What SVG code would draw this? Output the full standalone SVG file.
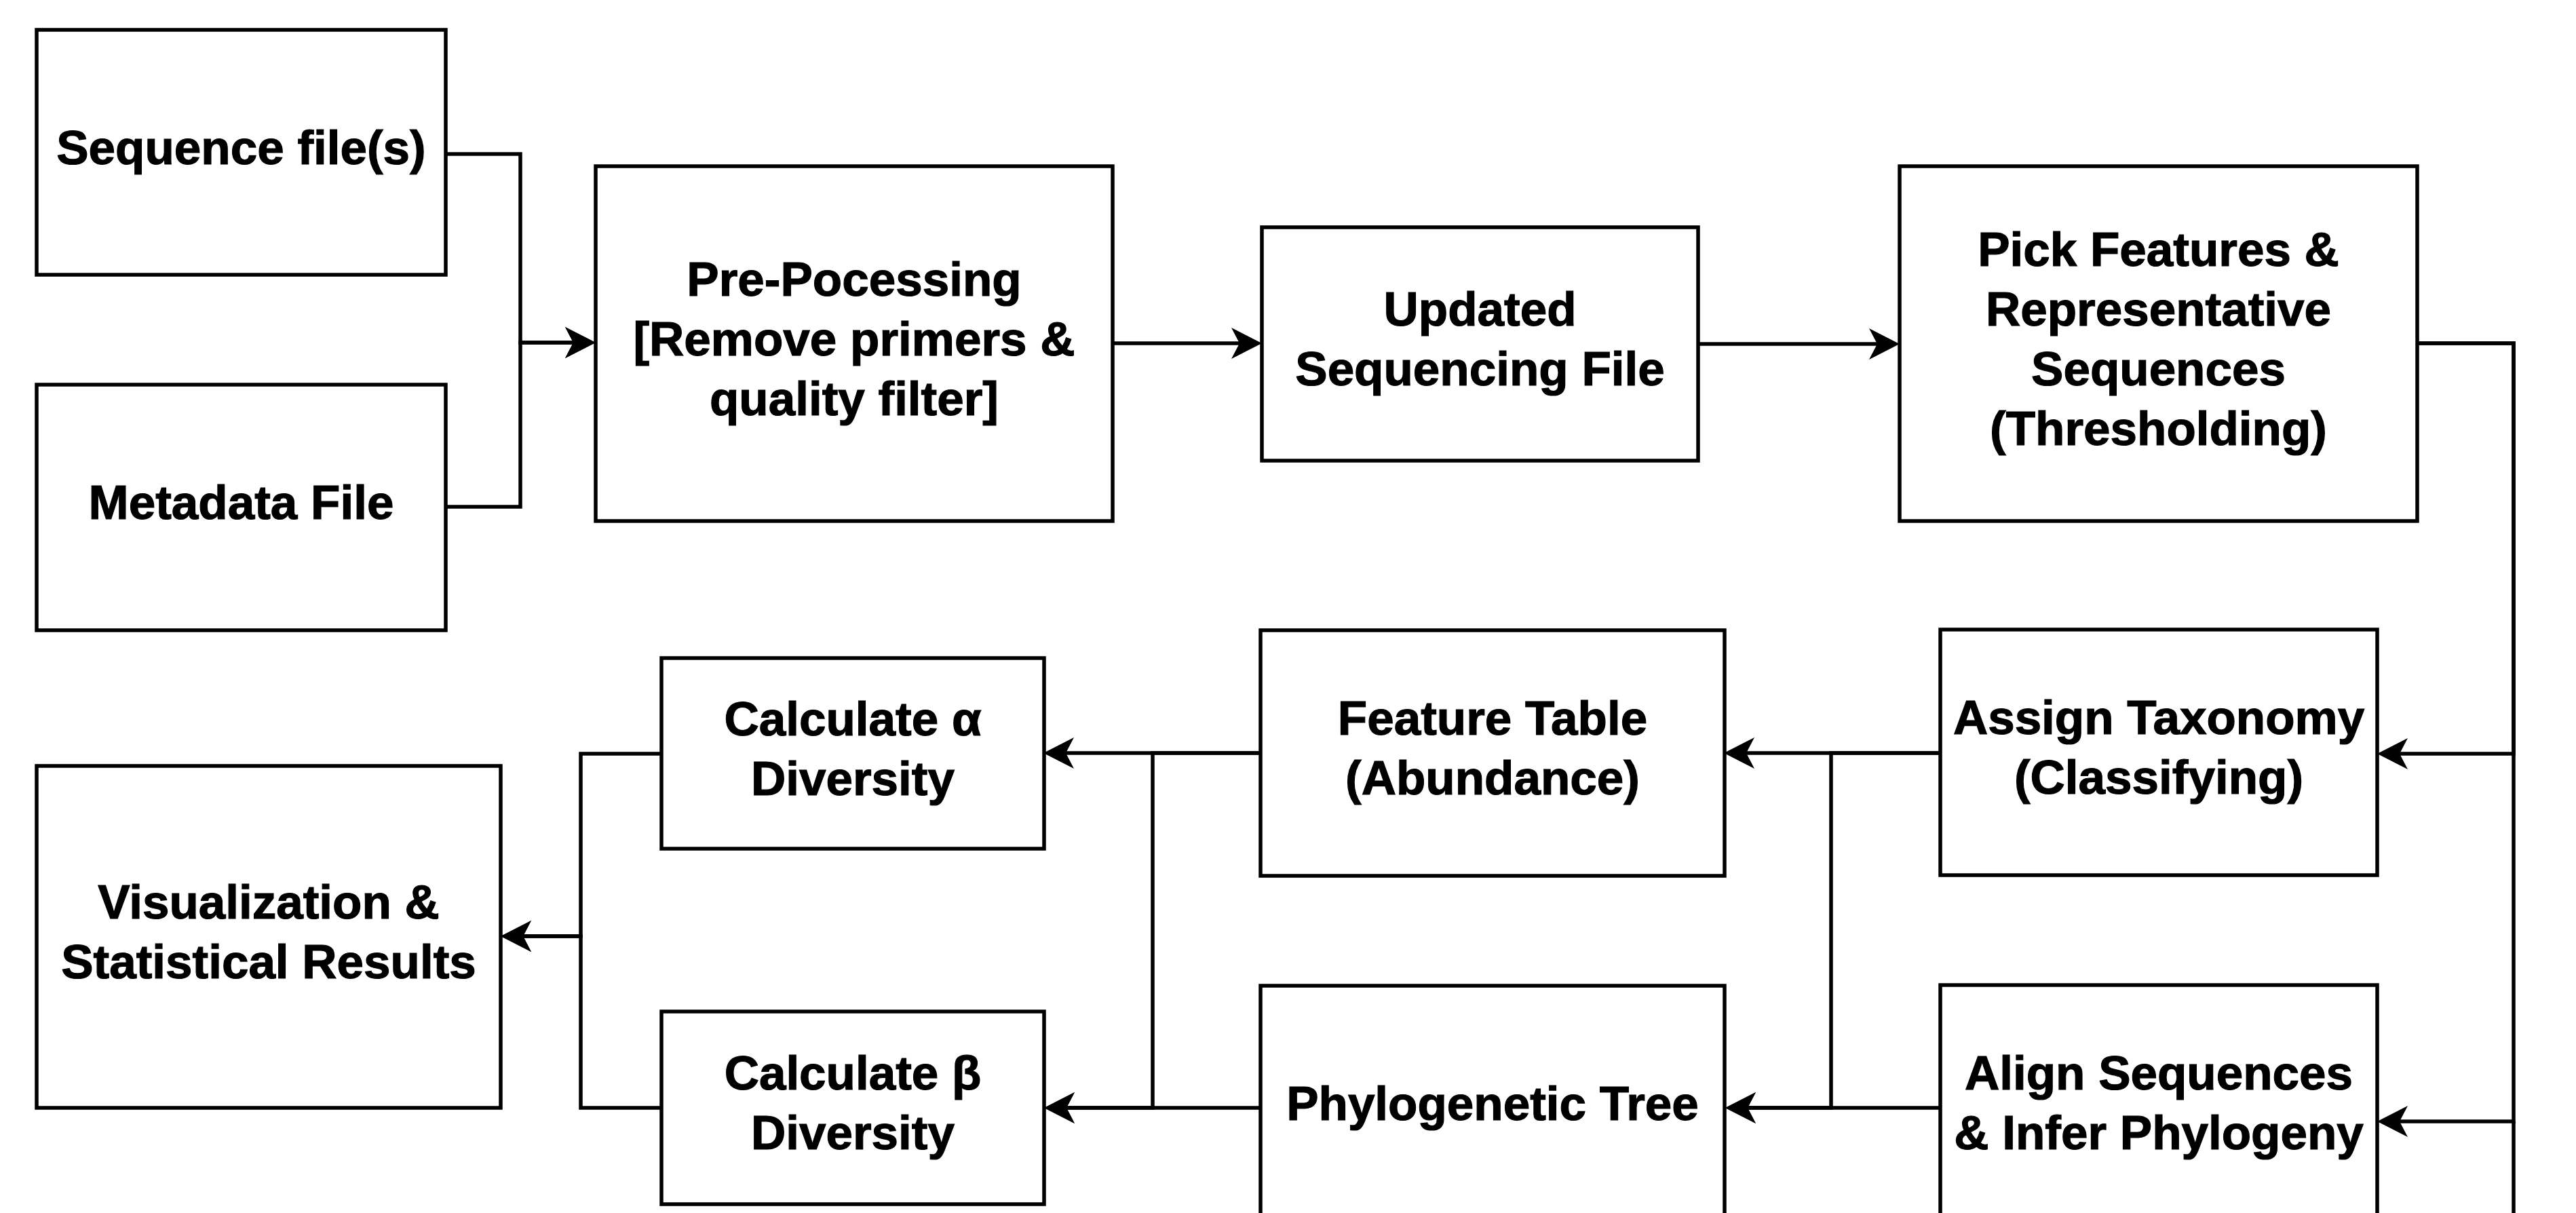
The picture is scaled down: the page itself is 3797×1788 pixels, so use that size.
<svg xmlns="http://www.w3.org/2000/svg" width="3797" height="1788" viewBox="0 0 3797 1788">
<style>
.box{fill:#fff;stroke:#000;stroke-width:5.5}
.lbl{font-family:"Liberation Sans",Arial,Helvetica,sans-serif;font-weight:bold;font-size:71px;fill:#000;stroke:#000;stroke-width:1.2;text-anchor:middle}
.edge{fill:none;stroke:#000;stroke-width:5.5}
</style>
<defs>
<marker id="arr" markerUnits="userSpaceOnUse" viewBox="-16 -24 47 48" refX="0" refY="0" markerWidth="47" markerHeight="48" orient="auto">
<path d="M30,0 L-15,-23 L-3,0 L-15,23 Z" fill="#000"/>
</marker>
</defs>
<rect width="3797" height="1788" fill="#fff"/>
<g id="connectors">
<path class="edge" d="M657,227 H767 V505 H848" marker-end="url(#arr)"/>
<path class="edge" d="M657,747 H767 V505 H848" marker-end="url(#arr)"/>
<path class="edge" d="M1640,506 H1830" marker-end="url(#arr)"/>
<path class="edge" d="M2503,507 H2770" marker-end="url(#arr)"/>
<path class="edge" d="M3563,506 H3705 V1111 H3534" marker-end="url(#arr)"/>
<path class="edge" d="M3563,506 H3705 V1653 H3534" marker-end="url(#arr)"/>
<path class="edge" d="M3705,1653 V1792"/>
<path class="edge" d="M2860,1110 H2571" marker-end="url(#arr)"/>
<path class="edge" d="M2860,1110 H2699 V1633 H2573" marker-end="url(#arr)"/>
<path class="edge" d="M2860,1633 H2573" marker-end="url(#arr)"/>
<path class="edge" d="M1858,1110 H1568" marker-end="url(#arr)"/>
<path class="edge" d="M1858,1110 H1699 V1633 H1569" marker-end="url(#arr)"/>
<path class="edge" d="M1858,1633 H1569" marker-end="url(#arr)"/>
<path class="edge" d="M975,1111 H856 V1380 H768" marker-end="url(#arr)"/>
<path class="edge" d="M975,1633 H856 V1380 H768" marker-end="url(#arr)"/>
</g>
<g id="node-sequence">
<rect class="box" x="54" y="44" width="603" height="361"/>
<text class="lbl" x="355.5" y="241.5">Sequence file(s)</text>
</g>
<g id="node-metadata">
<rect class="box" x="54" y="567" width="603" height="362"/>
<text class="lbl" x="355.5" y="765">Metadata File</text>
</g>
<g id="node-preprocessing">
<rect class="box" x="878" y="245" width="762" height="523"/>
<text class="lbl" x="1259" y="435.5">Pre-Pocessing</text>
<text class="lbl" x="1259" y="523.5">[Remove primers &amp;</text>
<text class="lbl" x="1259" y="611.5">quality filter]</text>
</g>
<g id="node-updated">
<rect class="box" x="1860" y="335" width="643" height="344"/>
<text class="lbl" x="2181.5" y="480">Updated</text>
<text class="lbl" x="2181.5" y="568">Sequencing File</text>
</g>
<g id="node-pick">
<rect class="box" x="2800" y="245" width="763" height="523"/>
<text class="lbl" x="3181.5" y="391.5">Pick Features &amp;</text>
<text class="lbl" x="3181.5" y="479.5">Representative</text>
<text class="lbl" x="3181.5" y="567.5">Sequences</text>
<text class="lbl" x="3181.5" y="655.5">(Thresholding)</text>
</g>
<g id="node-assign">
<rect class="box" x="2860" y="928" width="644" height="362"/>
<text class="lbl" x="3182" y="1082">Assign Taxonomy</text>
<text class="lbl" x="3182" y="1170">(Classifying)</text>
</g>
<g id="node-align">
<rect class="box" x="2860" y="1452" width="644" height="362"/>
<text class="lbl" x="3182" y="1606">Align Sequences</text>
<text class="lbl" x="3182" y="1694">&amp; Infer Phylogeny</text>
</g>
<g id="node-feature-table">
<rect class="box" x="1858" y="929" width="684" height="362"/>
<text class="lbl" x="2200" y="1083">Feature Table</text>
<text class="lbl" x="2200" y="1171">(Abundance)</text>
</g>
<g id="node-phylo-tree">
<rect class="box" x="1858" y="1453" width="684" height="362"/>
<text class="lbl" x="2200" y="1651">Phylogenetic Tree</text>
</g>
<g id="node-calc-alpha">
<rect class="box" x="975" y="970" width="564" height="281"/>
<text class="lbl" x="1257" y="1083.5">Calculate α</text>
<text class="lbl" x="1257" y="1171.5">Diversity</text>
</g>
<g id="node-calc-beta">
<rect class="box" x="975" y="1491" width="564" height="284"/>
<text class="lbl" x="1257" y="1606">Calculate β</text>
<text class="lbl" x="1257" y="1694">Diversity</text>
</g>
<g id="node-visualization">
<rect class="box" x="54" y="1129" width="684" height="504"/>
<text class="lbl" x="396" y="1354">Visualization &amp;</text>
<text class="lbl" x="396" y="1442">Statistical Results</text>
</g>
</svg>
